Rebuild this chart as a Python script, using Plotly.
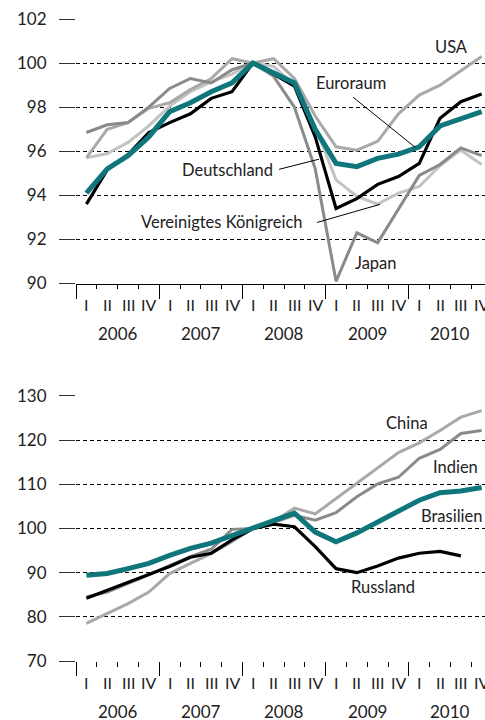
import plotly.graph_objects as go

QUARTERS = ["I", "II", "III", "IV"]
YEARS = ["2006", "2007", "2008", "2009", "2010"]
PERIODS = [f"{y} {q}" for y in YEARS for q in QUARTERS]

# upper panel: industrial countries (2008 Q1 = 100)
deutschland = [93.6, 95.15, 95.85, 96.85, 97.3, 97.7, 98.4, 98.7, 100.0, 99.5,
               98.95, 96.65, 93.4, 93.85, 94.5, 94.85, 95.45, 97.5, 98.25, 98.6]
euroraum = [94.1, 95.2, 95.8, 96.65, 97.8, 98.2, 98.7, 99.1, 100.0, 99.55,
            99.1, 97.0, 95.45, 95.3, 95.68, 95.87, 96.2, 97.15, 97.5, 97.8]
usa = [95.7, 97.0, 97.3, 97.95, 98.2, 98.8, 99.3, 100.2, 100.0, 100.2,
       99.3, 97.6, 96.2, 96.05, 96.45, 97.7, 98.55, 99.0, 99.65, 100.3]
japan = [96.85, 97.2, 97.3, 98.0, 98.85, 99.3, 99.1, 99.7, 100.0, 99.4,
         98.0, 95.2, 90.1, 92.3, 91.85, 93.4, 94.9, 95.4, 96.15, 95.8]
uk = [95.7, 95.9, 96.4, 97.15, 98.05, 98.7, 99.15, 99.5, 100.0, 99.85,
      99.0, 97.1, 94.7, 93.95, 93.6, 94.1, 94.4, 95.35, 96.05, 95.4]

# lower panel: emerging economies
china = [78.5, 80.7, 83.0, 85.6, 89.8, 92.1, 94.3, 97.0, 100.0, 101.6,
         104.6, 103.3, 106.8, 110.2, 113.6, 117.2, 119.4, 122.2, 125.2, 126.7]
indien = [84.5, 85.6, 87.6, 89.5, 91.6, 93.6, 95.3, 99.8, 100.0, 101.4,
          103.0, 101.9, 103.6, 107.2, 110.1, 111.6, 115.9, 117.9, 121.5, 122.2]
brasilien = [89.4, 89.8, 90.9, 92.1, 93.9, 95.5, 96.7, 98.4, 100.0, 101.9,
             103.5, 99.2, 97.0, 99.0, 101.5, 104.1, 106.4, 108.1, 108.5, 109.3]
russland = [84.2, 86.0, 87.9, 89.7, 91.4, 93.5, 94.4, 97.4, 100.0, 101.0,
            100.4, 95.9, 90.9, 90.0, 91.5, 93.3, 94.4, 94.8, 93.8, None]

TEAL = "#0f767c"
BLACK = "#000000"
MID = "#8a8a8a"
LIGHT = "#a9a9a9"
PALE = "#c3c3c3"
FONT = "Lato"

x = list(range(len(PERIODS)))

fig = go.Figure()


def add_line(vals, color, width, xa="x", ya="y"):
    fig.add_trace(go.Scatter(
        x=x, y=vals, mode="lines", xaxis=xa, yaxis=ya,
        line=dict(color=color, width=width), showlegend=False,
        hoverinfo="skip",
    ))


# top panel (draw order: lighter first, teal on top)
add_line(uk, PALE, 3)
add_line(usa, LIGHT, 3)
add_line(japan, MID, 3)
add_line(deutschland, BLACK, 3.2)
add_line(euroraum, TEAL, 5)

# bottom panel
add_line(china, LIGHT, 3, "x2", "y2")
add_line(indien, MID, 3, "x2", "y2")
add_line(russland, BLACK, 3.2, "x2", "y2")
add_line(brasilien, TEAL, 5, "x2", "y2")

n = len(PERIODS)
xrange = [-0.5, n - 0.84]
year_bounds = [i * 4 - 0.5 for i in range(len(YEARS) + 1)]


def xaxis_cfg(anchor, showline):
    return dict(
        domain=[0, 1], range=xrange, anchor=anchor, automargin=False,
        showline=showline, linecolor=BLACK, linewidth=1.3,
        showgrid=False, zeroline=False,
        tickmode="array", tickvals=year_bounds, showticklabels=False,
        ticks="outside", ticklen=14, tickwidth=1.2, tickcolor=BLACK,
        minor=dict(tickmode="linear", tick0=-0.5, dtick=1, ticks="outside",
                   ticklen=4.5, tickwidth=1.2, tickcolor=BLACK),
    )


def yaxis_cfg(domain, rng, dtick, anchor):
    return dict(
        domain=domain, range=rng, dtick=dtick, anchor=anchor, automargin=False,
        showline=False, zeroline=False,
        showgrid=True, gridcolor=BLACK, gridwidth=1, griddash="4px,3px",
        ticks="outside", ticklen=16, tickwidth=1.2, tickcolor="#333",
        tickfont=dict(family=FONT, size=17, color="#222"),
        ticklabelstandoff=9,
    )


fig.update_layout(
    width=485, height=720,
    paper_bgcolor="white", plot_bgcolor="white",
    margin=dict(l=76, r=0, t=19, b=59, pad=0, autoexpand=False),
    xaxis=xaxis_cfg("y", True),
    yaxis=yaxis_cfg([0.588, 1.0], [90, 102], 2, "x"),
    xaxis2=xaxis_cfg("y2", False),
    yaxis2=yaxis_cfg([0.0, 0.4128], [70, 130], 10, "x2"),
    font=dict(family=FONT, size=16, color="#222"),
)

annotations = []
for xa, ya in [("x", "y"), ("x2", "y2")]:
    for i, p in enumerate(PERIODS):
        annotations.append(dict(
            x=i, y=0, xref=xa, yref=f"{ya} domain", text=p.split()[1],
            showarrow=False, yanchor="middle", yshift=-21,
            font=dict(family=FONT, size=16, color="#222"),
        ))
    for j, yr in enumerate(YEARS):
        annotations.append(dict(
            x=j * 4 + 1.5, y=0, xref=xa, yref=f"{ya} domain", text=yr,
            showarrow=False, yanchor="middle", yshift=-50,
            font=dict(family=FONT, size=17, color="#222"),
        ))

labels_top = [
    ("USA", 17.53, 100.73),
    ("Euroraum", 12.72, 99.09),
    ("Deutschland", 6.76, 95.14),
    ("Vereinigtes Königreich", 6.52, 92.77),
    ("Japan", 13.92, 90.95),
]
labels_bottom = [
    ("China", 15.41, 123.9),
    ("Indien", 17.72, 113.9),
    ("Brasilien", 17.53, 102.8),
    ("Russland", 14.26, 86.7),
]
for txt, lx, ly in labels_top:
    annotations.append(dict(x=lx, y=ly, xref="x", yref="y", text=txt,
                            showarrow=False, font=dict(family=FONT, size=16.5, color="#222")))
for txt, lx, ly in labels_bottom:
    annotations.append(dict(x=lx, y=ly, xref="x2", yref="y2", text=txt,
                            showarrow=False, font=dict(family=FONT, size=16.5, color="#222")))

fig.update_layout(annotations=annotations)

# leader lines from labels to their series
leaders = [
    (12.82, 98.45, 15.8, 96.18),
    (9.26, 95.18, 11.18, 95.64),
    (11.09, 92.77, 14.11, 93.59),
]
for x0, y0, x1, y1 in leaders:
    fig.add_shape(type="line", x0=x0, y0=y0, x1=x1, y1=y1, xref="x", yref="y",
                  line=dict(color=BLACK, width=1))

# page has a default 8px body margin; drop it so the figure fills the window
fig.write_html("out.html", config={"displayModeBar": False},
               post_script="document.body.style.margin='0';")
